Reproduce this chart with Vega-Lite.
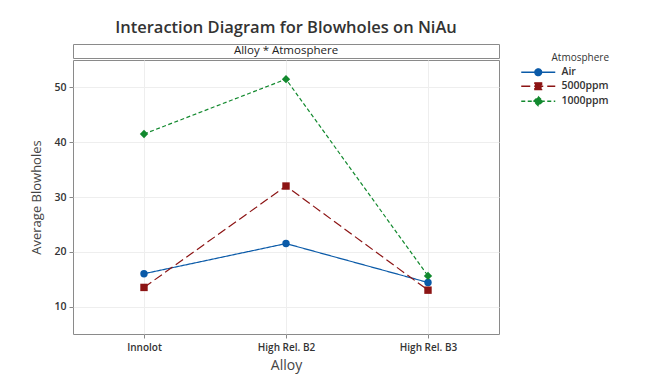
{
  "$schema": "https://vega.github.io/schema/vega-lite/v6.json",
  "padding": {"left": 30, "top": 20, "right": 5, "bottom": 5},
  "background": "white",
  "title": {"text": "Interaction Diagram for Blowholes on NiAu", "fontSize": 16.5, "font": "Open Sans", "fontWeight": 600, "color": "#333333", "anchor": "middle", "frame": "group", "offset": 7},
  "datasets": {
    "main": [
      {"Alloy": "Innolot", "Atmosphere": "Air", "Blowholes": 16.0},
      {"Alloy": "High Rel. B2", "Atmosphere": "Air", "Blowholes": 21.5},
      {"Alloy": "High Rel. B3", "Atmosphere": "Air", "Blowholes": 14.4},
      {"Alloy": "Innolot", "Atmosphere": "5000ppm", "Blowholes": 13.5},
      {"Alloy": "High Rel. B2", "Atmosphere": "5000ppm", "Blowholes": 32.0},
      {"Alloy": "High Rel. B3", "Atmosphere": "5000ppm", "Blowholes": 13.0},
      {"Alloy": "Innolot", "Atmosphere": "1000ppm", "Blowholes": 41.5},
      {"Alloy": "High Rel. B2", "Atmosphere": "1000ppm", "Blowholes": 51.5},
      {"Alloy": "High Rel. B3", "Atmosphere": "1000ppm", "Blowholes": 15.6}
    ],
    "strip": [{"label": "Alloy * Atmosphere"}]
  },
  "spacing": 0,
  "vconcat": [
    {
      "data": {"name": "strip"},
      "width": 426,
      "height": 14,
      "mark": {"type": "text", "fontSize": 11.5, "font": "Open Sans", "color": "#222222"},
      "encoding": {
        "x": {"field": "label", "type": "nominal", "axis": null, "scale": {"type": "band", "padding": 0}},
        "text": {"field": "label", "type": "nominal"}
      }
    },
    {
      "data": {"name": "main"},
      "width": 426,
      "height": 274,
      "encoding": {
        "x": {"field": "Alloy", "type": "nominal", "sort": ["Innolot", "High Rel. B2", "High Rel. B3"],
              "scale": {"type": "point", "padding": 0.5},
              "axis": {"labelAngle": 0, "title": "Alloy", "grid": true, "gridColor": "#eeeeee", "domain": false,
                       "tickColor": "#888888", "tickSize": 4, "labelFont": "Open Sans", "labelFontSize": 10, "labelFontWeight": 600,
                       "labelColor": "#333333", "labelPadding": 4, "titleFont": "Open Sans", "titleFontSize": 14, "titleFontWeight": "normal",
                       "titleColor": "#444444", "titlePadding": 6}},
        "y": {"field": "Blowholes", "type": "quantitative",
              "scale": {"domain": [5, 55], "nice": false, "zero": false},
              "axis": {"values": [10, 20, 30, 40, 50], "title": "Average Blowholes", "grid": true, "gridColor": "#eeeeee", "domain": false,
                       "tickColor": "#888888", "tickSize": 4, "labelFont": "Open Sans", "labelFontSize": 10.5, "labelFontWeight": 600,
                       "labelColor": "#333333", "labelPadding": 3, "titleFont": "Open Sans", "titleFontSize": 13, "titleFontWeight": "normal",
                       "titleColor": "#444444", "titlePadding": 10}},
        "color": {"field": "Atmosphere", "type": "nominal", "sort": ["Air", "5000ppm", "1000ppm"],
                  "scale": {"domain": ["Air", "5000ppm", "1000ppm"], "range": ["#0a5aa8", "#8c1414", "#12892e"]},
                  "legend": {"title": "Atmosphere"}}
      },
      "layer": [
        {
          "mark": {"type": "line", "strokeWidth": 1.2},
          "encoding": {
            "strokeDash": {"field": "Atmosphere", "type": "nominal", "sort": ["Air", "5000ppm", "1000ppm"],
                           "scale": {"domain": ["Air", "5000ppm", "1000ppm"], "range": [[1, 0], [9, 4], [4, 2.5]]},
                           "legend": {"title": "Atmosphere"}}
          }
        },
        {
          "transform": [{"filter": "datum.Atmosphere === 'Air'"}],
          "mark": {"type": "point", "filled": true, "size": 55, "opacity": 1, "shape": "circle"}
        },
        {
          "transform": [{"filter": "datum.Atmosphere === '5000ppm'"}],
          "mark": {"type": "point", "filled": true, "size": 55, "opacity": 1, "shape": "square"}
        },
        {
          "transform": [{"filter": "datum.Atmosphere === '1000ppm'"}],
          "mark": {"type": "point", "filled": true, "size": 70, "opacity": 1, "shape": "diamond"}
        },
        {
          "mark": {"type": "point", "filled": true, "opacity": 0, "strokeWidth": 1.3},
          "encoding": {
            "shape": {"field": "Atmosphere", "type": "nominal", "sort": ["Air", "5000ppm", "1000ppm"],
                      "scale": {"domain": ["Air", "5000ppm", "1000ppm"],
                                "range": ["M-4.25,0H4.25M0.85,0A0.85,0.85 0 1,1 -0.85,0A0.85,0.85 0 1,1 0.85,0Z", "M-4.25,0H4.25M-0.85,-0.85H0.85V0.85H-0.85Z", "M-4.25,0H4.25M0,-1.15L1.15,0L0,1.15L-1.15,0Z"]},
                      "legend": {"title": "Atmosphere"}}
          }
        }
      ]
    }
  ],
  "config": {
    "view": {"stroke": "#8a8a8a", "strokeWidth": 1},
    "legend": {
      "titleAnchor": "end", "titleFont": "Open Sans", "titleFontSize": 10, "titleFontWeight": 500,
      "titleColor": "#333333", "labelFont": "Open Sans", "labelFontSize": 10.5, "labelFontWeight": 600, "labelColor": "#333333",
      "symbolSize": 64, "symbolOpacity": 1, "labelOffset": 18, "rowPadding": 1, "offset": 24, "padding": 9, "titlePadding": 4,
      "symbolStrokeWidth": 1.3
    }
  }
}
